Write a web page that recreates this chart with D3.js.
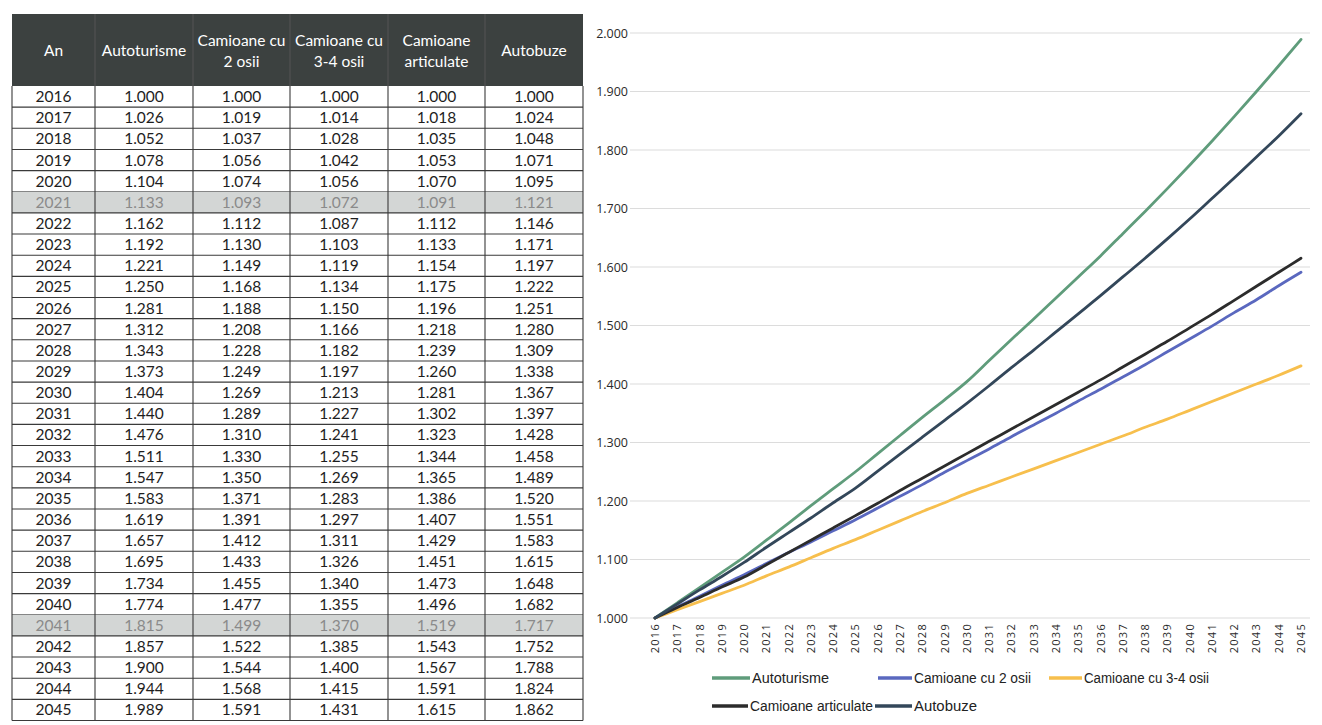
<!DOCTYPE html>
<html><head><meta charset="utf-8">
<script src="https://cdn.jsdelivr.net/npm/d3@7"></script>
<style>
html,body{margin:0;padding:0;background:#fff;}
svg{display:block;}
</style></head>
<body>
<svg id="c" width="1322" height="725"></svg>
<script>
const years = [2016,2017,2018,2019,2020,2021,2022,2023,2024,2025,2026,2027,2028,2029,2030,2031,2032,2033,2034,2035,2036,2037,2038,2039,2040,2041,2042,2043,2044,2045];
const autoturisme = [1.000,1.026,1.052,1.078,1.104,1.133,1.162,1.192,1.221,1.250,1.281,1.312,1.343,1.373,1.404,1.440,1.476,1.511,1.547,1.583,1.619,1.657,1.695,1.734,1.774,1.815,1.857,1.900,1.944,1.989];
const camioane2 = [1.000,1.019,1.037,1.056,1.074,1.093,1.112,1.130,1.149,1.168,1.188,1.208,1.228,1.249,1.269,1.289,1.310,1.330,1.350,1.371,1.391,1.412,1.433,1.455,1.477,1.499,1.522,1.544,1.568,1.591];
const camioane34 = [1.000,1.014,1.028,1.042,1.056,1.072,1.087,1.103,1.119,1.134,1.150,1.166,1.182,1.197,1.213,1.227,1.241,1.255,1.269,1.283,1.297,1.311,1.326,1.340,1.355,1.370,1.385,1.400,1.415,1.431];
const articulate = [1.000,1.018,1.035,1.053,1.070,1.091,1.112,1.133,1.154,1.175,1.196,1.218,1.239,1.260,1.281,1.302,1.323,1.344,1.365,1.386,1.407,1.429,1.451,1.473,1.496,1.519,1.543,1.567,1.591,1.615];
const autobuze = [1.000,1.024,1.048,1.071,1.095,1.121,1.146,1.171,1.197,1.222,1.251,1.280,1.309,1.338,1.367,1.397,1.428,1.458,1.489,1.520,1.551,1.583,1.615,1.648,1.682,1.717,1.752,1.788,1.824,1.862];
const headers = [["An"],["Autoturisme"],["Camioane cu","2 osii"],["Camioane cu","3-4 osii"],["Camioane","articulate"],["Autobuze"]];
const seriesNames = ["Autoturisme","Camioane cu 2 osii","Camioane cu 3-4 osii","Camioane articulate","Autobuze"];
const yTicks = [1.0,1.1,1.2,1.3,1.4,1.5,1.6,1.7,1.8,1.9,2.0];
const shadedYears = [2021,2041];

const seriesVals = [autoturisme,camioane2,camioane34,articulate,autobuze];
const colors = ["#5f9c7b","#5a68bf","#f7bf4d","#2c2c2c","#33475a"];
const fmt = d3.format(".3f");
const svg = d3.select("#c");
const tableFont = "Lato, 'Open Sans', sans-serif";

// ---------- TABLE ----------
const colX = [12,95,193,290,388,485,583];
const headTop = 14, headBot = 86, rowH = 21.15;
const tg = svg.append("g");
tg.append("rect").attr("x",colX[0]).attr("y",headTop).attr("width",colX[6]-colX[0]).attr("height",headBot-headTop).attr("fill","#3c4140");
headers.forEach((h,i)=>{
  const cx=(colX[i]+colX[i+1])/2;
  const t=tg.append("text").attr("x",cx).attr("text-anchor","middle").attr("fill","#fff")
    .attr("font-family",tableFont).attr("font-size",15.5);
  if(h.length===1){ t.attr("y",headTop+42).text(h[0]); }
  else { t.append("tspan").attr("x",cx).attr("y",headTop+32).text(h[0]);
         t.append("tspan").attr("x",cx).attr("y",headTop+53).text(h[1]); }
});
for(let i=1;i<6;i++){
  tg.append("line").attr("x1",colX[i]).attr("x2",colX[i]).attr("y1",headTop).attr("y2",headBot).attr("stroke","#555").attr("stroke-width",1);
}
const rowY = d3.scaleLinear().domain([0,1]).range([headBot,headBot+rowH]);
years.forEach((y,r)=>{
  const top=rowY(r), shaded=shadedYears.includes(y);
  if(shaded) tg.append("rect").attr("x",colX[0]).attr("y",top).attr("width",colX[6]-colX[0]).attr("height",rowH).attr("fill","#d3d6d5");
  const vals=[String(y)].concat(seriesVals.map(s=>fmt(s[r])));
  vals.forEach((v,i)=>{
    tg.append("text").attr("x",(colX[i]+colX[i+1])/2).attr("y",top+rowH/2+5.5)
      .attr("text-anchor","middle").attr("font-family",tableFont).attr("font-size",15.5)
      .attr("fill",shaded?"#8a8a8a":"#1e1e1e").text(v);
  });
  tg.append("line").attr("x1",colX[0]).attr("x2",colX[6]).attr("y1",top+rowH).attr("y2",top+rowH).attr("stroke","#3a3a3a").attr("stroke-width",1.1);
});
const tableBottom = rowY(years.length);
colX.forEach((x,i)=>{
  tg.append("line").attr("x1",x).attr("x2",x).attr("y1",headBot).attr("y2",tableBottom).attr("stroke","#3a3a3a").attr("stroke-width",1.1);
});

// ---------- CHART ----------
const x = d3.scalePoint().domain(years).range([655,1301]);
const y = d3.scaleLinear().domain([1,2]).range([618,33]);
const cg = svg.append("g");
const chartFont = "'Open Sans', Lato, sans-serif";
yTicks.forEach(t=>{
  cg.append("line").attr("x1",630).attr("x2",1310).attr("y1",y(t)).attr("y2",y(t)).attr("stroke","#dcdcdc").attr("stroke-width",1.2);
  cg.append("text").attr("x",628).attr("y",y(t)+4.5).attr("text-anchor","end")
    .attr("font-family",chartFont).attr("font-size",12.5).attr("fill","#2a2a2a").text(fmt(t));
});
years.forEach(yr=>{
  cg.append("text").attr("transform",`translate(${x(yr)+4},623) rotate(-90)`).attr("text-anchor","end")
    .attr("font-family",chartFont).attr("font-size",11).attr("letter-spacing",1.3).attr("fill","#2a2a2a").text(yr);
});
const line = d3.line().x((d,i)=>x(years[i])).y(d=>y(d)).curve(d3.curveMonotoneX);
seriesVals.forEach((s,k)=>{
  cg.append("path").attr("d",line(s)).attr("fill","none").attr("stroke",colors[k]).attr("stroke-width",2.8).attr("stroke-linecap","round");
});

// legend
const legendFont = "'Liberation Sans', Arial, sans-serif";
const legendPos = [[712,750,678,77],[878,912,678,117],[1049,1082,678,125],[712,748,706,123],[875,912,706,63]];
seriesNames.forEach((n,k)=>{
  const [x1,x2,ly,tl]=legendPos[k];
  cg.append("line").attr("x1",x1).attr("x2",x2).attr("y1",ly).attr("y2",ly).attr("stroke",colors[k]).attr("stroke-width",3.5);
  cg.append("text").attr("x",x2+2).attr("y",ly+5).attr("font-family",legendFont).attr("font-size",14)
    .attr("textLength",tl).attr("lengthAdjust","spacingAndGlyphs").attr("fill","#222").text(n);
});
</script>
</body></html>
